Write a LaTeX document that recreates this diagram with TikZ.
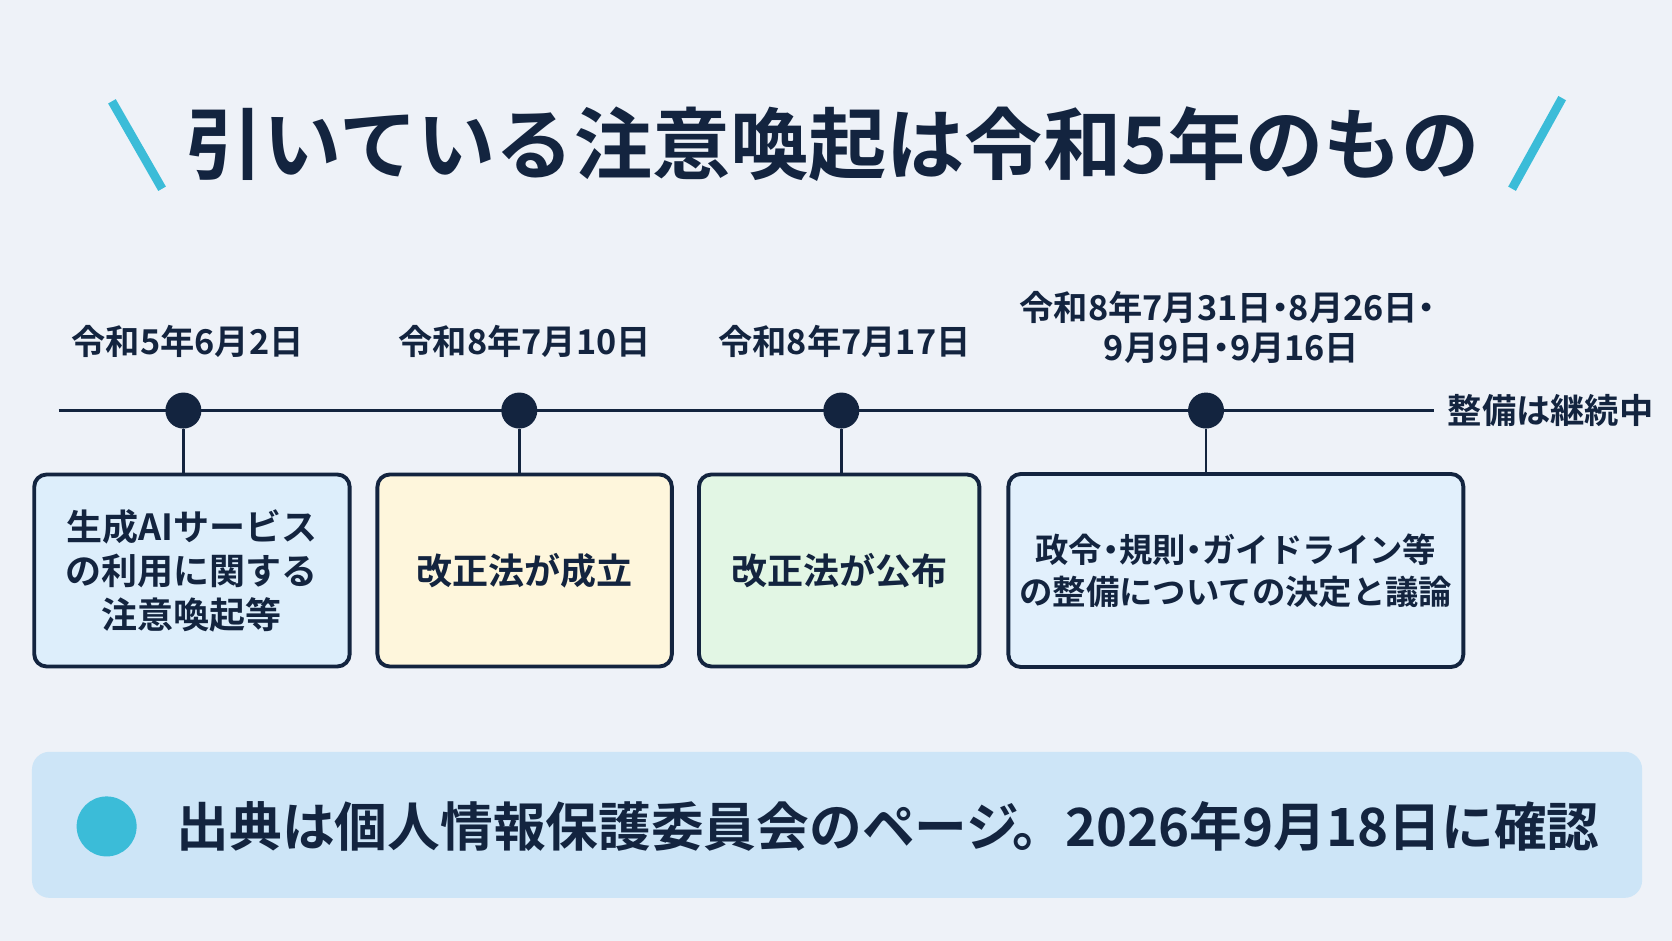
\documentclass[tikz,border=0pt]{standalone}
\usepackage{fontspec}
\setmainfont{Noto Sans CJK JP}[BoldFont={Noto Sans CJK JP Bold}]
\usetikzlibrary{positioning}
\definecolor{navy}{HTML}{13243F}
\definecolor{cyanacc}{HTML}{3BBCD8}
\definecolor{bgpage}{HTML}{EEF2F8}
\definecolor{boxblue}{HTML}{DDEEFB}
\definecolor{boxyellow}{HTML}{FEF6DC}
\definecolor{boxgreen}{HTML}{E2F6E4}
\definecolor{boxsky}{HTML}{E2F0FC}
\definecolor{panel}{HTML}{CDE5F7}
\tikzset{
  event/.style={draw=navy, line width=2.2pt, rounded corners=7pt, align=center,
    text=navy, font=\fontsize{20.5}{25}\selectfont\bfseries, inner sep=0pt},
  date/.style={text=navy, font=\fontsize{19.5}{23}\selectfont\bfseries, align=center},
  dot/.style={circle, fill=navy, minimum size=0.72cm, inner sep=0pt},
  stem/.style={navy, line width=1.6pt}
}
\begin{document}
\begin{tikzpicture}[x=0.021327cm, y=-0.021327cm]
\fill[bgpage] (0,0) rectangle (1568,882);
\useasboundingbox (0,0) rectangle (1568,882);

% title
\node[text=navy, font=\fontsize{44.5}{50}\selectfont\bfseries] (title) at (781,135) {引いている注意喚起は令和5年のもの};
\draw[cyanacc, line width=5pt] (105,95) -- (152,177);
\draw[cyanacc, line width=5pt] (1465,92) -- (1418,177);

% timeline
\coordinate (tlstart) at (55,385);
\coordinate (tlend) at (1345,385);
\draw[stem] (tlstart) -- (tlend);
\node[anchor=west, date] (ongoing) at (1352,385) {整備は継続中};

\node[dot] (d1) at (172,385) {};
\node[dot] (d2) at (487,385) {};
\node[dot] (d3) at (789,385) {};
\node[dot] (d4) at (1131,385) {};

\node[date] (t1) at (176,320) {令和5年6月2日};
\node[date] (t2) at (492,320) {令和8年7月10日};
\node[date] (t3) at (792,320) {令和8年7月17日};
\node[date] (t4) at (1155,307) {令和8年7月31日{\kern-0.25em}・{\kern-0.25em}8月26日{\kern-0.25em}・\\9月9日{\kern-0.25em}・{\kern-0.25em}9月16日};

\node[event, fill=boxblue, minimum width=6.31cm, minimum height=3.84cm] (e1) at (180,535) {生成AIサービス\\の利用に関する\\注意喚起等};
\node[event, fill=boxyellow, minimum width=5.89cm, minimum height=3.84cm] (e2) at (492,535) {改正法が成立};
\node[event, fill=boxgreen, minimum width=5.61cm, minimum height=3.84cm] (e3) at (787,535) {改正法が公布};
\node[event, fill=boxsky, minimum width=9.1cm, minimum height=3.86cm,
  font=\fontsize{19}{24}\selectfont\bfseries] (e4) at (1159,535) {政令{\kern-0.25em}・{\kern-0.25em}規則{\kern-0.25em}・{\kern-0.25em}ガイドライン等\\の整備についての決定と議論};

\foreach \i in {1,...,4} {
  \draw[stem] (d\i) -- (d\i |- e\i.north);
}

% source panel
\fill[panel, rounded corners=10pt] (30,705) rectangle (1540,842);
\node[circle, fill=cyanacc, minimum size=1.2cm, inner sep=0pt] (bullet) at (100,775) {};
\node[anchor=west, text=navy, font=\fontsize{30}{36}\selectfont\bfseries] (source) at (160,775) {出典は個人情報保護委員会のページ{\kern-0.12em}。2026年9月18日に確認};
\end{tikzpicture}
\end{document}
